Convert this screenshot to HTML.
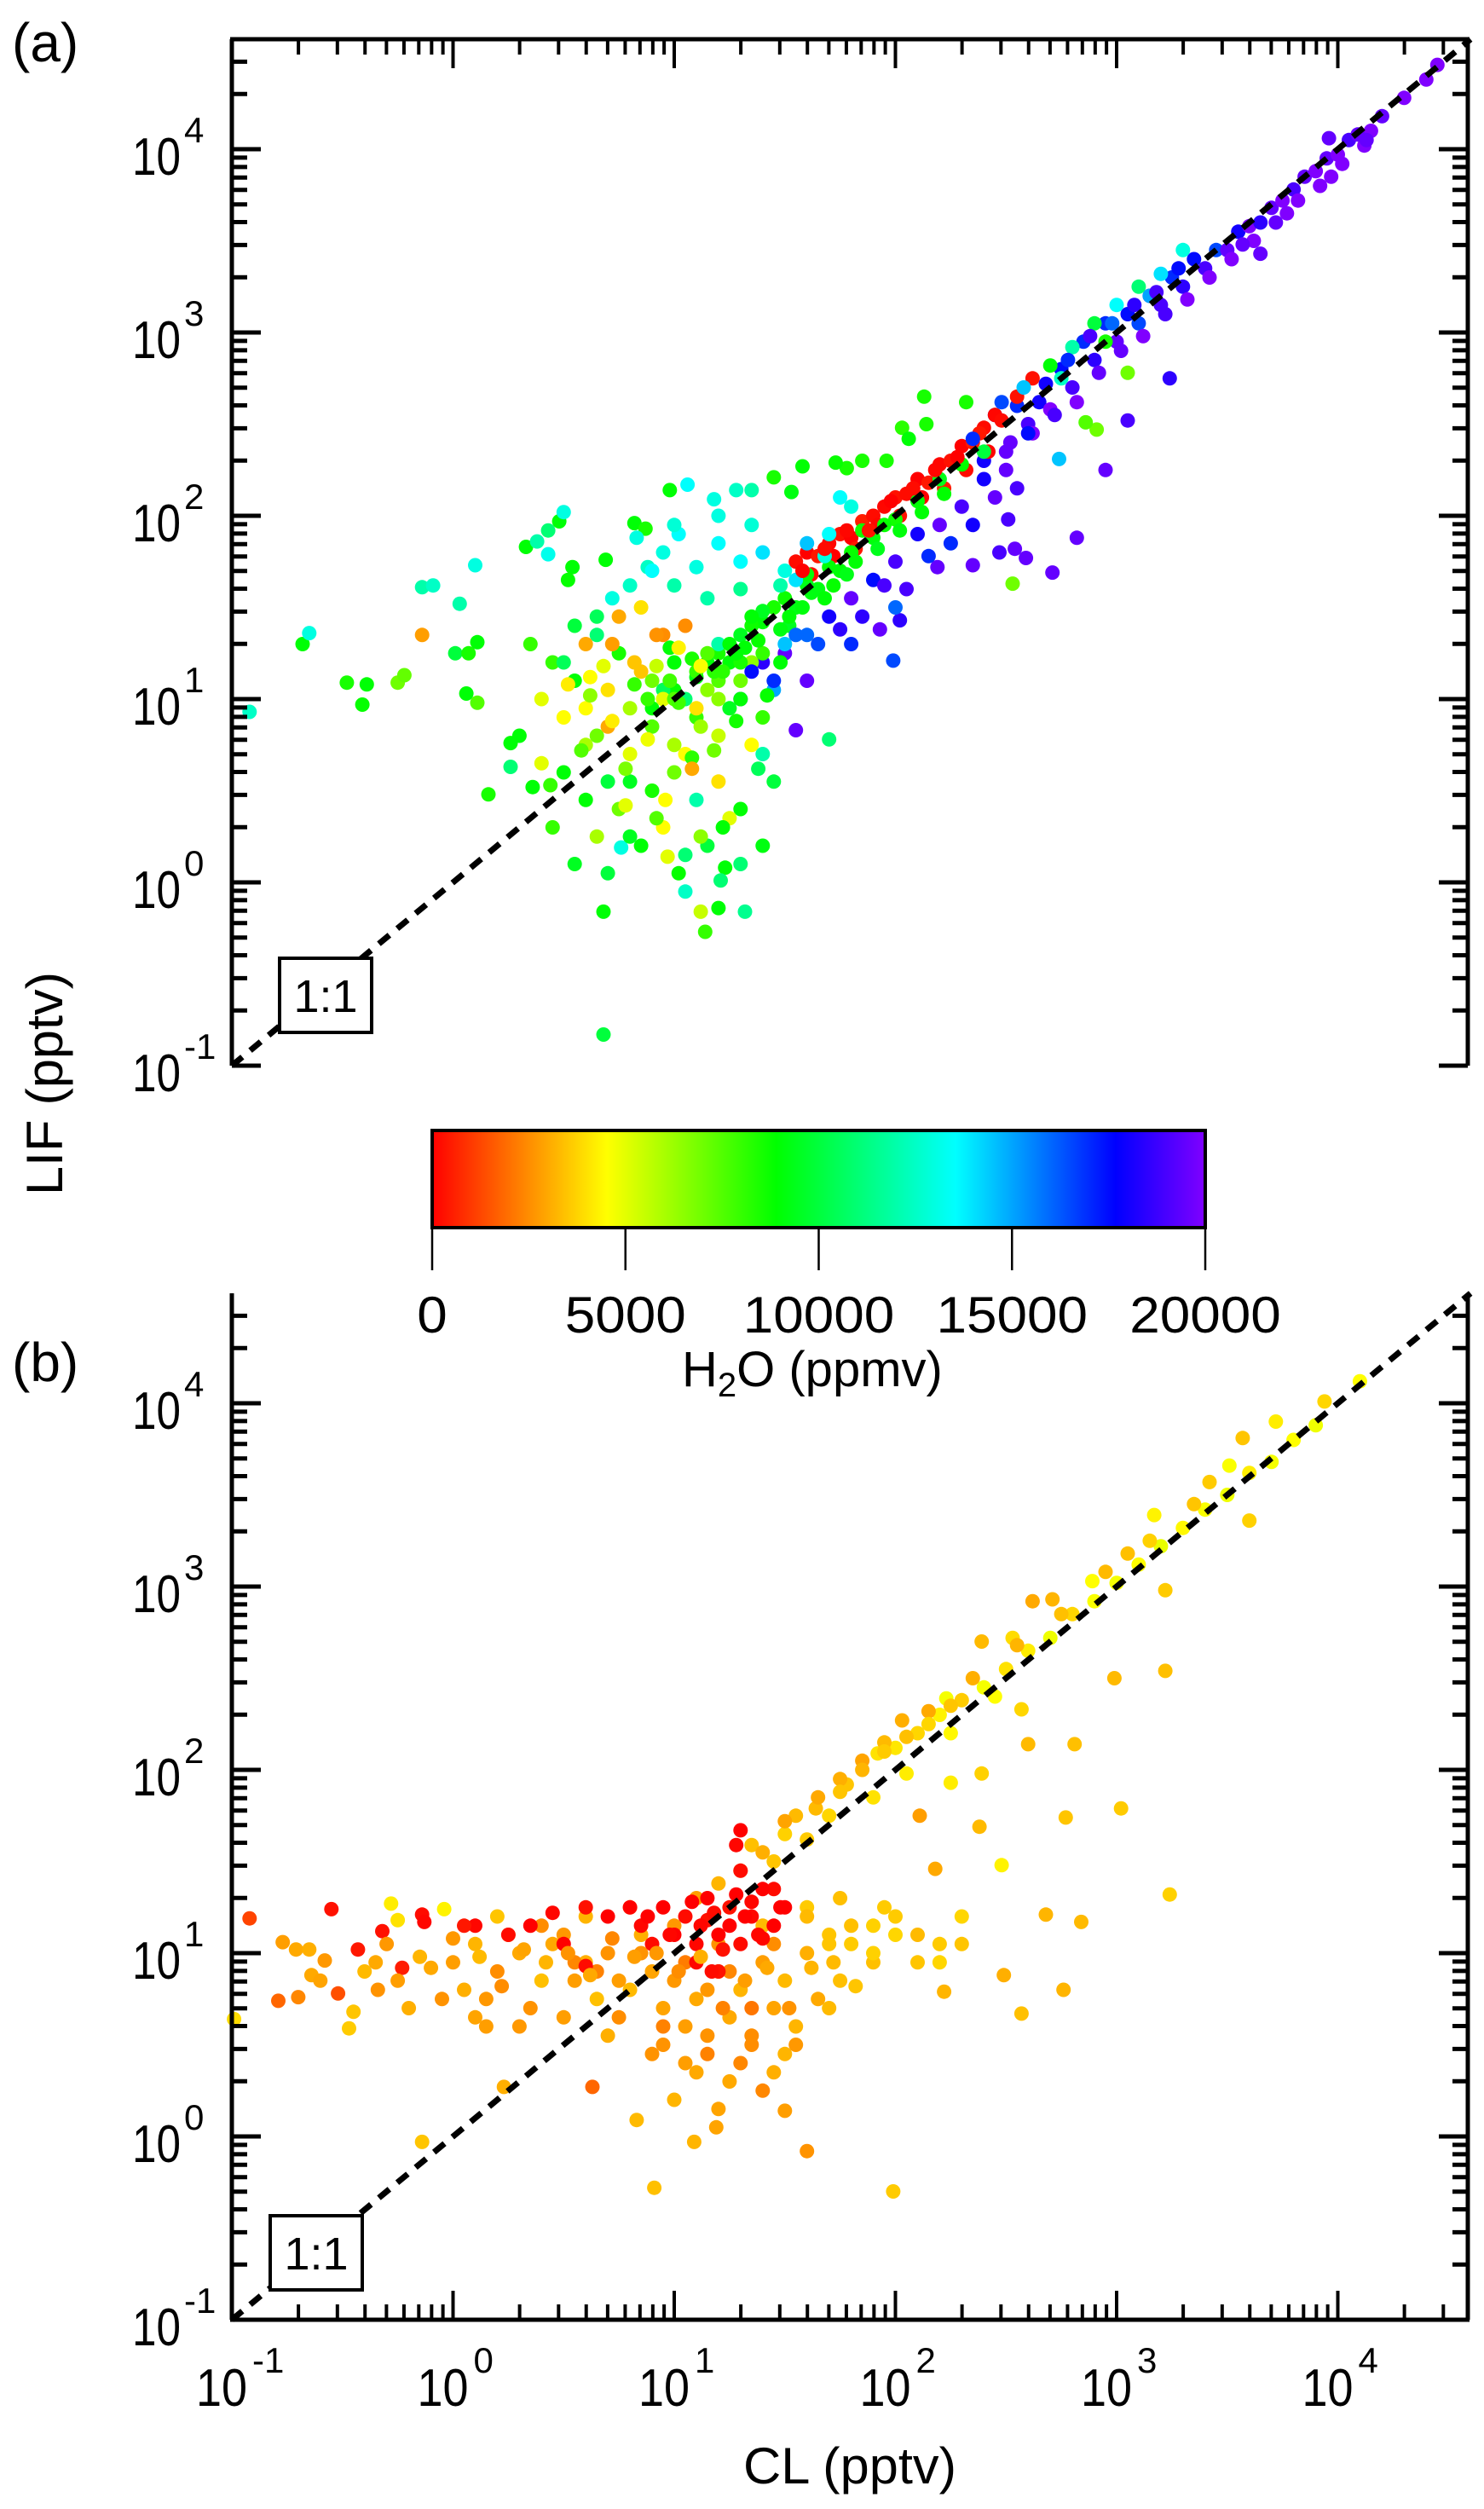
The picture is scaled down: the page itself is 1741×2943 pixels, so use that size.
<!DOCTYPE html>
<html><head><meta charset="utf-8"><title>LIF vs CL scatter</title>
<style>
html,body{margin:0;padding:0;background:#fff;}
svg{display:block;font-family:"Liberation Sans",Arial,sans-serif;}
</style></head>
<body>
<svg id="fig" xmlns="http://www.w3.org/2000/svg" width="1741" height="2943" viewBox="0 0 1741 2943">
<defs>
<linearGradient id="rainbow" x1="0" y1="0" x2="1" y2="0">
<stop offset="0" stop-color="#ff0000"/><stop offset="0.226" stop-color="#ffff00"/><stop offset="0.445" stop-color="#00ff00"/><stop offset="0.677" stop-color="#00ffff"/><stop offset="0.884" stop-color="#0000ff"/><stop offset="1" stop-color="#8000ff"/>
</linearGradient>
</defs>
<g id="panelA"></g>
<g id="panelB"></g>
<g id="cbar"></g>
<g id="labels"></g>
</svg>
<script>
// ===== Panel (a): log10(CL), log10(LIF), H2O (ppmv) =====
const aCl = [
2.40,2.45,2.50,2.55,2.60,2.65,2.70,2.75,2.80,2.85,
2.90,2.95,3.00,3.05,3.10,3.15,3.20,3.25,3.30,3.35,
3.40,3.45,3.50,3.55,3.60,3.65,3.70,3.75,3.80,3.85,
3.90,3.95,4.00,4.05,4.10,4.15,4.20,4.30,4.40,4.45,
2.52,2.62,2.72,2.82,2.92,3.02,3.12,3.22,3.32,3.42,
3.52,3.62,3.72,3.82,3.92,4.02,4.12,3.57,3.77,3.97,
2.70,2.80,2.90,3.00,3.10,3.20,3.30,2.75,2.95,3.15,
1.55,1.60,1.65,1.70,1.75,1.80,1.85,1.90,1.95,2.00,
2.05,2.10,2.15,2.20,2.25,2.30,2.35,2.40,2.45,2.55,
1.62,1.72,1.82,1.92,2.02,2.12,2.22,2.32,2.42,2.62,
0.90,1.00,1.10,1.20,1.30,1.40,1.50,1.60,1.70,1.80,
1.90,2.00,2.10,2.20,2.30,2.40,1.05,1.25,1.45,1.65,
0.95,1.15,1.35,1.55,1.75,1.95,1.20,1.40,1.60,1.85,
1.30,1.40,1.50,1.60,1.70,1.80,1.90,2.00,2.10,2.20,
2.30,2.40,2.50,2.60,1.45,1.65,1.85,2.05,2.25,2.45,
1.30,1.40,1.50,1.60,1.70,1.80,1.35,1.55,1.75,1.20,
0.40,0.45,0.50,0.55,0.60,0.65,0.70,0.75,0.80,0.85,
0.90,0.95,1.00,1.05,1.10,1.15,1.20,1.25,1.30,1.35,
0.50,0.60,0.70,0.80,0.90,1.00,1.10,1.20,1.30,1.40,
0.35,0.55,0.75,0.95,1.15,1.35,0.65,0.85,1.05,1.25,
0.45,0.65,0.85,1.05,1.25,1.45,0.55,0.75,0.95,1.15,
1.00,1.10,1.20,1.30,1.40,0.90,1.00,1.10,1.20,1.30,
0.30,0.40,0.50,0.60,0.70,0.80,1.45,1.50,1.35,1.40,
-0.92,-0.68,-0.65,-0.48,-0.39,-0.41,-0.25,-0.22,-0.14,-0.14,
-0.09,0.03,0.10,0.33,0.38,0.43,0.48,0.50,0.43,0.01,
0.07,0.11,0.06,0.11,0.16,0.26,0.26,0.36,0.44,0.68,
0.68,1.14,1.12,1.20,1.32,1.23,1.21,0.97,0.76,0.98,
1.06,0.82,0.87,0.83,1.02,0.69,0.54,0.52,0.95,0.88,
3.24,3.05,2.95,2.82,2.71,2.59,2.54,2.47,2.35,2.51,
2.19,1.99,2.02,1.93,3.65,2.91,2.86,3.05,2.53,2.74,
1.70,1.55,3.96,4.13,4.09,2.13,2.32,2.14,2.03,2.06,
1.96,1.85,1.78,1.73,1.58,1.45,1.28,1.35,1.18,1.53
];
const aLif = [
2.30,2.55,2.35,2.60,2.50,2.62,2.58,2.80,2.70,2.95,
2.85,3.05,2.95,3.10,3.05,3.20,3.15,3.30,3.25,3.40,
3.35,3.45,3.45,3.55,3.58,3.60,3.68,3.72,3.78,3.85,
3.88,3.95,3.97,4.05,4.08,4.10,4.18,4.28,4.38,4.46,
2.40,2.45,2.55,2.62,2.78,2.90,2.98,3.10,3.18,3.30,
3.40,3.50,3.60,3.72,3.80,3.92,4.02,3.48,3.65,3.85,
2.82,2.92,3.05,3.15,3.25,3.32,3.45,2.75,2.95,3.20,
1.75,1.80,1.78,1.85,1.90,1.88,1.97,2.00,2.05,2.10,
2.12,2.20,2.18,2.28,2.30,2.38,2.40,2.48,2.55,2.65,
1.68,1.78,1.82,1.95,2.00,2.10,2.15,2.25,2.35,2.75,
0.95,1.05,1.12,1.25,1.35,1.42,1.55,1.62,1.72,1.80,
1.88,1.98,2.08,2.20,2.28,2.35,1.00,1.20,1.50,1.60,
1.05,1.20,1.40,1.50,1.70,1.95,1.30,1.48,1.68,1.92,
1.00,1.20,1.25,1.35,1.45,1.55,1.65,1.75,1.90,1.95,
2.05,2.20,2.25,2.45,1.05,1.30,1.45,1.60,1.85,2.10,
1.75,1.80,1.70,1.85,1.90,2.05,1.95,1.65,2.10,2.00,
1.00,1.20,0.90,1.10,1.30,0.80,1.05,1.25,0.95,1.15,
0.85,1.00,1.20,0.70,0.90,1.05,0.80,0.95,1.10,0.75,
0.60,0.75,0.55,0.70,0.50,0.60,0.45,0.55,0.40,0.90,
1.30,1.40,1.45,1.35,1.25,1.20,1.35,1.50,1.40,1.30,
0.30,0.25,0.20,0.15,0.35,0.55,0.10,0.40,0.30,0.20,
1.00,1.15,1.00,1.20,1.25,1.10,0.75,0.95,1.10,1.00,
0.80,0.65,1.20,0.95,0.85,0.55,1.10,1.30,1.45,0.70,
0.93,1.30,1.36,1.09,1.08,0.97,1.09,1.13,1.35,1.61,
1.62,1.52,1.73,1.83,1.86,1.92,1.97,2.02,1.79,1.25,
1.25,1.31,1.03,0.98,0.48,0.76,0.63,0.52,0.53,-0.16,
-0.83,-0.27,-0.16,-0.14,-0.16,0.08,0.01,0.14,0.19,2.14,
2.17,1.96,1.93,1.88,1.90,1.76,1.72,1.65,1.80,1.72,
2.75,2.52,2.25,1.88,1.69,1.77,1.82,1.80,1.73,1.98,
1.72,1.21,1.43,1.38,3.43,2.47,2.51,2.78,1.63,2.31,
0.78,0.83,4.06,4.05,4.08,2.65,2.62,2.50,2.48,2.42,
2.30,2.30,2.26,2.29,2.27,2.21,2.14,2.14,2.09,2.13
];
const aH2o = [
18000,17500,19500,17000,19000,18000,20000,17500,19000,17000,
18500,17000,19500,17500,16500,18000,19000,17000,18500,17500,
19000,16500,19500,18000,20000,18500,19500,20000,19000,19500,
20000,19500,20000,19000,20000,20000,19500,20000,20000,20000,
19500,20000,19000,20000,19500,19500,20000,19000,20000,20000,
20000,20000,19500,20000,20000,20000,20000,19500,20000,20000,
9000,12000,10000,13500,11000,14000,13000,12500,8500,15000,
200,0,400,100,300,0,500,200,100,300,
200,0,400,100,300,0,500,200,100,300,
200,0,400,100,300,0,500,200,100,300,
9000,8800,9200,8500,9500,9000,8700,9300,9000,8800,
9100,8600,9000,9400,8900,10000,11000,9000,8500,9200,
10500,9000,8700,9300,9000,8800,12000,9500,9000,8700,
17000,18500,19500,16000,18000,19500,17500,19000,18000,19500,
19000,18000,19500,17500,15000,16500,18500,19000,17000,19500,
13500,14000,13000,14500,13500,13000,12800,14000,13500,13000,
5000,8000,4500,9000,3000,7000,4000,8500,6000,3500,
7500,5000,9000,4500,8000,6500,5500,9500,7000,4500,
9000,6000,10000,5000,8500,7000,12000,4000,9000,8000,
8000,10000,3000,2500,7500,6500,11000,4000,2500,9000,
8000,6000,9000,11000,5000,10000,9500,7000,4500,10000,
7500,8000,6500,8500,8000,7000,6000,4000,7500,9000,
9000,5000,10500,4500,3000,9500,17000,14500,9000,12000,
12500,9000,13000,8500,9000,8800,7000,7200,2800,12000,
12500,12000,13000,9000,12000,11000,9000,13000,13200,10000,
8500,9000,9000,7500,8500,9000,11000,9000,8000,9000,
10000,8000,5500,9000,11500,9000,11000,5000,13000,9000,
13500,9000,8500,13000,13500,9000,9000,8800,13000,12500,
18500,19000,19500,19500,19500,19500,19500,19000,19500,19000,
19500,16500,18500,19500,19500,7000,7500,7000,7000,14500,
11000,19500,19500,19500,19500,8500,8500,8500,8200,9000,
8500,8500,8500,8800,9000,8500,12500,12000,13000,9200
];
// extra panel (a) points in dense regions
const aCl2 = [
0.62,0.72,0.82,0.92,1.02,1.12,1.22,1.32,1.42,1.52,
0.58,0.68,0.78,0.88,0.98,1.08,1.18,1.28,1.38,1.48,
0.88,0.98,1.08,1.18,1.28,1.38,1.48,1.58,1.68,1.78,
1.52,1.62,1.72,1.82,1.92,2.02,2.12,2.22,1.48,1.68,
1.35,1.55,1.75,1.95,2.15,2.35,2.55,1.60,1.80,2.00,
1.58,1.68,1.78,1.88,1.98,2.08,2.18,2.28,2.38,2.48,
2.35,2.48,2.58,2.68,2.78,2.88,2.98,3.08,3.18,3.28,
0.72,0.80,0.90,1.00,1.10,1.20,1.30,1.00,1.15,0.65,
0.72,0.82,0.92,1.02,1.12,0.62,0.52,1.08,0.96,0.78,
0.80,0.92,1.02,1.12,1.22,1.30,0.70,0.60,1.40,1.05
];
const aLif2 = [
1.02,0.88,1.08,1.18,0.98,0.85,1.15,1.28,1.02,1.40,
0.72,1.18,0.62,0.78,1.28,0.68,0.72,0.88,0.62,1.20,
1.00,1.10,1.22,1.15,1.25,1.32,1.38,1.50,1.55,1.68,
1.45,1.58,1.62,1.75,1.82,1.92,2.02,2.12,1.62,1.78,
1.15,1.35,1.38,1.62,1.78,1.95,2.15,1.10,1.30,1.50,
1.70,1.82,1.92,1.92,2.08,2.15,2.25,2.32,2.45,2.52,
2.42,2.62,2.70,2.72,2.85,2.98,3.05,3.15,3.22,3.35,
1.55,1.62,1.70,1.62,1.72,1.85,1.60,1.95,1.55,1.45,
1.30,1.20,1.35,1.28,1.18,1.12,1.08,0.62,0.45,0.42,
0.25,0.35,0.05,0.25,0.30,0.10,0.05,0.45,0.20,-0.05
];
const aH2o2 = [
6500,4200,8000,5500,7800,6200,8200,9000,8800,9500,
7500,5000,6800,4800,9000,8200,7000,8600,10500,9000,
8000,7800,8500,8200,9000,8800,9200,9100,9000,9300,
9000,9200,8800,9000,9400,9100,9000,8900,12000,13000,
17500,16000,18500,19000,17000,18000,19000,19500,17000,16000,
0,200,100,300,0,200,100,0,400,200,
17000,16500,14500,18000,17000,19000,16000,18500,19000,17500,
13000,12500,13500,12000,13000,13500,11500,12800,12000,10500,
2800,3500,2600,4300,4600,4500,4200,3000,4500,5000,
9500,7500,8800,6500,9000,11000,10000,9000,9200,12500
];
// ===== Panel (b): log10(CL), log10(LIF), H2O (ppmv) =====
const bCl = [
4.10,3.94,3.72,3.57,3.51,3.42,3.17,3.05,2.89,2.71,
2.62,2.53,2.39,2.23,2.03,1.92,1.78,1.64,1.50,1.35,
3.90,3.80,3.70,3.60,3.50,3.40,3.30,3.20,3.10,3.00,
2.90,2.80,2.70,2.60,2.50,2.40,2.30,2.20,2.10,2.00,
3.35,3.15,2.95,2.75,2.55,2.35,2.15,1.95,1.85,1.75,
2.45,2.25,2.05,1.90,1.70,1.60,1.45,1.30,1.20,1.10,
3.60,3.22,3.22,2.99,2.81,2.60,2.57,2.39,2.25,3.02,
2.77,3.24,2.38,2.48,2.84,2.68,2.76,2.57,2.49,2.22,
2.11,2.18,
1.99,0.91,1.60,-0.14,1.09,1.19,0.83,1.50,0.63,0.23,
-0.92,-0.55,-0.47,-0.45,-0.52,-0.79,-0.99,-0.77,-0.71,-0.65,
-0.70,-0.58,-0.64,-0.43,-0.34,-0.32,-0.28,-0.25,-0.14,-0.13,
-0.23,-0.04,
0.00,0.10,0.20,0.30,0.40,0.50,0.60,0.70,0.80,0.90,
0.05,0.15,0.25,0.35,0.45,0.55,0.65,0.75,0.85,0.95,
1.00,1.10,1.20,1.30,1.40,1.50,1.60,1.70,1.80,1.90,
1.05,1.15,1.25,1.35,1.45,1.55,1.65,1.75,2.00,2.10,
0.20,0.40,0.60,0.80,1.00,1.20,1.40,1.60,0.50,0.70,
0.90,1.10,1.30,1.50,0.30,0.10,1.70,1.90,2.20,2.30,
0.65,0.85,1.05,1.25,1.45,1.35,1.15,0.95,0.75,0.55,
0.85,0.95,1.05,1.15,1.25,1.35,1.45,0.90,1.00,1.10,
1.20,1.30,1.40,1.50,1.15,1.25,1.35,1.45,0.70,0.60,
0.45,0.35,0.25,0.10,0.50,1.30,1.40,1.10,1.20,0.80,
1.30,1.28,1.17,0.60
];
const bLif = [
4.12,4.01,3.90,3.81,3.66,3.57,3.39,3.18,3.03,2.93,
2.92,2.72,2.70,2.39,2.27,2.09,1.92,1.79,1.65,1.59,
3.88,3.80,3.68,3.62,3.50,3.42,3.32,3.22,3.12,3.02,
2.92,2.85,2.72,2.65,2.55,2.45,2.38,2.30,2.20,2.12,
3.45,3.25,3.08,2.85,2.68,2.50,2.32,2.15,2.05,1.95,
2.40,2.20,1.98,1.85,1.75,1.62,1.50,1.45,1.38,1.30,
3.36,2.98,2.54,2.50,2.14,2.14,2.33,1.98,1.93,1.79,
1.74,1.32,1.69,1.48,1.17,1.21,0.80,0.67,0.88,0.79,
1.75,1.46,
-0.30,-0.28,-0.08,-0.03,-0.03,0.05,0.09,0.14,0.27,0.27,
1.19,1.24,0.59,0.68,0.78,0.74,0.64,1.06,1.02,1.02,
0.76,0.96,0.88,1.02,0.80,1.12,1.27,1.18,1.21,1.17,
0.92,1.24,
0.95,1.05,0.90,1.00,0.85,1.10,0.95,1.00,0.80,0.90,
0.80,0.75,1.10,0.70,1.05,0.85,0.75,0.65,1.10,0.70,
0.85,0.75,0.90,0.80,0.95,0.85,1.00,1.10,1.05,0.95,
0.60,0.55,0.65,0.50,0.70,0.60,0.75,0.85,1.10,0.95,
1.20,1.15,1.20,1.25,1.15,1.05,1.15,1.25,0.65,0.55,
0.45,0.35,0.40,0.45,0.60,0.65,0.70,1.15,1.05,1.20,
0.90,1.00,0.95,0.90,1.05,0.70,0.80,0.60,0.85,0.95,
1.15,1.25,1.20,1.30,1.25,1.20,1.15,1.05,1.10,1.05,
1.10,1.05,1.08,1.25,1.18,1.15,1.28,1.35,1.20,1.25,
1.22,1.15,1.10,1.15,1.05,1.45,1.35,0.95,0.90,1.25,
1.67,1.59,0.90,0.93
];
const bH2o = [
4500,3800,4200,3500,4600,3600,4300,3400,4500,3200,
3000,3900,3300,4700,3100,4000,3500,3300,3700,3400,
4800,4500,4700,4200,4800,4600,4400,4900,4500,4700,
4600,3800,4800,4200,4000,4700,3600,4300,3800,4100,
3500,3700,3300,3400,3200,3100,3000,3300,2900,3100,
4500,4400,4200,4000,3800,3600,3500,3000,3200,2800,
3700,3600,3400,3300,3400,3300,3800,3700,4200,3600,
3500,3700,3300,4300,3300,3200,3200,3400,3100,3200,
2800,3000,
3600,3400,2600,3500,3200,2900,3300,2800,1800,3100,
1200,300,3600,3500,1400,1800,3900,2800,3000,3100,
2400,2700,3000,400,2600,300,4200,4000,200,100,
500,4300,
2800,3200,2500,3000,3400,2700,3100,2600,3300,2900,
3100,2700,3300,2600,3000,2800,3400,2500,3100,2900,
2700,3000,2600,3200,2800,3300,3100,3500,3600,3400,
2800,2600,3000,2500,2900,3200,3000,3400,3800,3500,
3500,2500,3200,3000,2700,2600,3300,3600,2800,3100,
2600,3000,2400,3200,2700,2900,3300,3700,3600,3800,
2300,2600,2200,2400,2500,2100,2700,2300,2800,2400,
100,0,200,0,300,100,0,200,0,100,
0,200,100,0,300,0,100,200,0,300,
100,0,200,100,0,200,0,100,300,0,
0,100,200,200
];
// extra panel (b) points in dense regions
const bCl2 = [
-0.10,0.00,0.12,0.22,0.32,0.42,0.52,0.62,0.72,0.82,
0.92,1.02,1.12,1.22,1.32,1.42,1.52,1.62,1.72,1.82,
0.95,1.05,1.15,1.25,1.35,1.45,1.55,1.00,1.20,1.40,
0.88,0.98,1.08,1.18,1.28,1.38,1.48,1.22,1.32,1.12,
1.55,1.65,1.75,1.85,1.95,2.05,2.15,2.25,1.40,1.50,
1.60,1.70,1.80,1.90,2.00,2.10,2.20,2.30,1.75,1.95,
-0.35,-0.25,-0.15,-0.05,-0.40,-0.60,-0.30,-0.20,0.05,0.15
];
const bLif2 = [
0.92,1.08,0.98,0.82,1.02,0.95,1.00,0.88,1.08,0.98,
1.00,0.90,0.98,0.70,0.85,0.92,0.70,0.92,0.95,0.82,
0.50,0.40,0.45,0.30,0.55,0.35,0.50,0.20,0.15,0.25,
1.20,1.10,1.28,1.22,1.32,1.10,1.25,1.02,1.20,1.15,
1.75,1.85,1.88,2.00,2.10,2.18,2.25,2.35,1.55,1.72,
1.20,1.05,1.15,1.00,1.20,1.10,0.95,1.05,1.30,1.25,
0.95,0.85,0.98,0.75,0.90,0.85,1.05,0.70,1.15,0.60
];
const bH2o2 = [
3000,2700,3300,2500,2900,3200,2600,3000,2400,2800,
2700,2500,3100,2300,2800,3000,2600,3200,3300,3500,
2600,2800,2300,3000,2500,3100,2700,3200,2900,2400,
0,100,0,200,0,100,0,300,0,100,
3300,3000,3500,3200,3600,3400,3800,3500,3100,2900,
3300,3500,3400,3700,3600,3300,3800,3500,3400,3600,
3000,2800,3200,2600,3300,2900,2700,3100,400,2800
];
// colorbar tick values
const cbTicks = [0,5000,10000,15000,20000];
const decades = [-1,0,1,2,3,4];

// ===== geometry =====
const SVGNS = "http://www.w3.org/2000/svg";
const LOGMIN = -1, LOGMAX = 4.6;
const XL = 272, XR = 1722, DX = 259.5, DY = 215;
const panels = {
  a:{bottom:1250, top:46},
  b:{bottom:2721, top:1517}
};
function X(l){ return XL + (l - LOGMIN) * DX; }
function Yp(p, l){ return panels[p].bottom - (l - LOGMIN) * DY; }
const stops = [[0,[255,0,0]],[0.226,[255,255,0]],[0.445,[0,255,0]],[0.677,[0,255,255]],[0.884,[0,0,255]],[1,[128,0,255]]];
function colorOf(h){
  let t = Math.max(0, Math.min(1, h/20000));
  for (let i=1;i<stops.length;i++){
    if (t <= stops[i][0]){
      const a = stops[i-1], b = stops[i];
      const f = (t - a[0])/(b[0]-a[0]);
      const c = a[1].map((v,k)=>Math.round(v + (b[1][k]-v)*f));
      return "rgb("+c.join(",")+")";
    }
  }
  return "rgb(128,0,255)";
}
function mk(tag, attrs, parent){
  const el = document.createElementNS(SVGNS, tag);
  for (const k in attrs) el.setAttribute(k, attrs[k]);
  parent.appendChild(el);
  return el;
}

function drawPanel(p, g, cl, lif, h2o){
  const pts = mk("g", {}, g);
  
  
  for (let i=0;i<cl.length;i++){
    const c = mk("ellipse", {cx:X(cl[i]).toFixed(1), cy:Yp(p,lif[i]).toFixed(1), rx:8.5, ry:8.5, fill:colorOf(h2o[i])}, pts);
    
    
  }
  const ln = mk("line", {x1:X(LOGMIN), y1:Yp(p,LOGMIN), x2:X(LOGMAX), y2:Yp(p,LOGMAX), stroke:"#000", "stroke-width":7, "stroke-dasharray":"16 12"}, g);
  
  

  const top = panels[p].top, bot = panels[p].bottom;
  const axes = mk("g", {stroke:"#000", fill:"none"}, g);
  
  
  const la = mk("line", {x1:XL, y1:top, x2:XL, y2:bot, "stroke-width":5}, axes);
  
  
  const ra = mk("line", {x1:XR, y1:top, x2:XR, y2:bot, "stroke-width":5}, axes);
  
  
  const hy = (p === 'a') ? top : bot;
  const dir = (p === 'a') ? 1 : -1;
  const ha = mk("line", {x1:XL-2, y1:hy, x2:XR+2, y2:hy, "stroke-width":5}, axes);
  
  
  for (let d=-1; d<=4; d++){
    for (let m=1; m<=9; m++){
      const l = d + Math.log10(m);
      if (l > LOGMAX + 1e-6) continue;
      const len = (m===1) ? 34 : 18;
      const y = Yp(p,l);
      const t1 = mk("line", {x1:XL, y1:y, x2:XL+len, y2:y, "stroke-width":5}, axes);
      
      
      const t2 = mk("line", {x1:XR, y1:y, x2:XR-len, y2:y, "stroke-width":5}, axes);
      
      
      const x = X(l);
      const t3 = mk("line", {x1:x, y1:hy, x2:x, y2:hy + dir*len, "stroke-width":4}, axes);
      
      
    }
  }
  for (const d of decades){
    const y = Yp(p,d);
    const t = mk("text", {x:212, y:y+30, "font-size":62, "text-anchor":"end", textLength:57, lengthAdjust:"spacingAndGlyphs"}, g);
    t.textContent = "10";
    
    
    const s = mk("text", {x:216, y:y-8, "font-size":42}, g);
    s.textContent = String(d);
    
    
  }
  const bx = (p==='a') ? 328 : 317, by = (p==='a') ? 1124 : 2599;
  const r = mk("rect", {x:bx, y:by, width:108, height:87, fill:"#fff", stroke:"#000", "stroke-width":4}, g);
  
  
  const tt = mk("text", {x:bx+54, y:by+63, "font-size":54, "text-anchor":"middle"}, g);
  tt.textContent = "1:1";
  
  
}

drawPanel('a', document.getElementById('panelA'), aCl.concat(aCl2), aLif.concat(aLif2), aH2o.concat(aH2o2));
drawPanel('b', document.getElementById('panelB'), bCl.concat(bCl2), bLif.concat(bLif2), bH2o.concat(bH2o2));

const labels = document.getElementById('labels');
for (const d of decades){
  const x = X(d);
  const t = mk("text", {x:x-42, y:2822, "font-size":62, textLength:60, lengthAdjust:"spacingAndGlyphs"}, labels);
  t.textContent = "10";
  
  
  const s = mk("text", {x:x+24, y:2783, "font-size":42}, labels);
  s.textContent = String(d);
  
  
}

const cb = document.getElementById('cbar');
const CB0 = 507, CB1 = 1414;
const cr = mk("rect", {x:CB0, y:1326, width:CB1-CB0, height:114, fill:"url(#rainbow)", stroke:"#000", "stroke-width":4}, cb);


for (const v of cbTicks){
  const x = CB0 + (CB1-CB0) * v / 20000;
  const l = mk("line", {x1:x, y1:1440, x2:x, y2:1490, stroke:"#000", "stroke-width":2.5}, cb);
  
  
  const s = String(v);
  const t = mk("text", {x:x, y:1563, "font-size":60, "text-anchor":"middle", textLength:(35.5*s.length), lengthAdjust:"spacingAndGlyphs"}, cb);
  t.textContent = s;
  
  
}

(function(){
  const g = document.getElementById('labels');
  function txt(attrs, content){
    const t = document.createElementNS(SVGNS, "text");
    for (const k in attrs) t.setAttribute(k, attrs[k]);
    t.textContent = content;
    g.appendChild(t);
    return t;
  }
  const pa = txt({x:14, y:72, "font-size":64}, "(a)");
  
  
  const pb = txt({x:14, y:1620, "font-size":64}, "(b)");
  
  
  const yl = txt({x:73, y:1271, "font-size":60, "text-anchor":"middle", transform:"rotate(-90 73 1271)", textLength:262, lengthAdjust:"spacingAndGlyphs"}, "LIF (pptv)");
  
  
  const xl = txt({x:997, y:2913, "font-size":60, "text-anchor":"middle", textLength:250, lengthAdjust:"spacingAndGlyphs"}, "CL (pptv)");
  
  
  const h = document.createElementNS(SVGNS, "text");
  h.setAttribute("x", 800);
  h.setAttribute("y", 1626);
  h.setAttribute("font-size", 58);
  h.innerHTML = 'H<tspan font-size="40" dy="12">2</tspan><tspan dy="-12">O (ppmv)</tspan>';
  g.appendChild(h);
  
  
})();
</script>
</body></html>
